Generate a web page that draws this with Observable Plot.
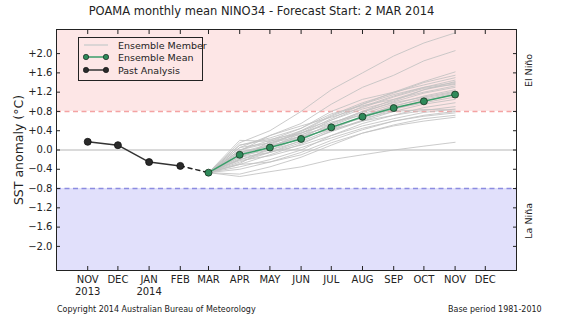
<!DOCTYPE html>
<html>
<head>
<meta charset="utf-8">
<script src="https://cdn.jsdelivr.net/npm/d3@7"></script>
<script src="https://cdn.jsdelivr.net/npm/@observablehq/plot@0.6"></script>
<style>
  html, body { margin: 0; padding: 0; background: #fff; }
  #wrap { position: relative; width: 561px; height: 321px; font-family: "DejaVu Sans", sans-serif; color: #222; overflow: hidden; }
  #wrap svg { position: absolute; left: 0; top: 0; }
  .title { position: absolute; left: 0; width: 523px; top: 4px; text-align: center; font-size: 11.5px; white-space: nowrap; }
  .foot { position: absolute; top: 305px; font-size: 8px; white-space: nowrap; }
  .legend { position: absolute; left: 78px; top: 37px; width: 125px; height: 44px; border: 1px solid #222; box-sizing: border-box; }
  .legend .row { position: absolute; left: 0; height: 12px; display: flex; align-items: center; font-size: 9.5px; white-space: nowrap; }
  .legend svg { position: static !important; margin-left: 4px; margin-right: 9px; }
</style>
</head>
<body>
<div id="wrap"></div>
<script>
// ---------- data ----------
const tickMonths = ["2013-11","2013-12","2014-01","2014-02","2014-03","2014-04","2014-05","2014-06","2014-07","2014-08","2014-09","2014-10","2014-11","2014-12"];
const tickLabels = ["NOV\n2013","DEC","JAN\n2014","FEB","MAR","APR","MAY","JUN","JUL","AUG","SEP","OCT","NOV","DEC"];
const yTicks = [-2.0,-1.6,-1.2,-0.8,-0.4,0,0.4,0.8,1.2,1.6,2.0];

const pastMonths = ["2013-11","2013-12","2014-01","2014-02"];
const pastValues = [0.17, 0.10, -0.25, -0.33];

const forecastMonths = ["2014-03","2014-04","2014-05","2014-06","2014-07","2014-08","2014-09","2014-10","2014-11"];
const meanValues = [-0.47, -0.10, 0.05, 0.23, 0.47, 0.69, 0.87, 1.01, 1.15];

const members = [
  [-0.47, 0.15, 0.40, 0.80, 1.25, 1.60, 1.95, 2.22, 2.43],
  [-0.47, 0.05, 0.30, 0.55, 0.95, 1.30, 1.55, 1.85, 2.06],
  [-0.47, 0.10, 0.25, 0.45, 0.80, 1.05, 1.20, 1.42, 1.62],
  [-0.47,-0.05, 0.12, 0.40, 0.72, 0.98, 1.18, 1.40, 1.55],
  [-0.47, 0.05, 0.15, 0.35, 0.65, 0.95, 1.20, 1.35, 1.50],
  [-0.47,-0.15, 0.05, 0.30, 0.62, 0.90, 1.12, 1.30, 1.45],
  [-0.47,-0.10, 0.10, 0.38, 0.70, 0.95, 1.15, 1.30, 1.40],
  [-0.47, 0.00, 0.20, 0.45, 0.75, 0.92, 1.05, 1.25, 1.38],
  [-0.47,-0.20, 0.00, 0.25, 0.55, 0.80, 1.05, 1.20, 1.33],
  [-0.47,-0.05, 0.08, 0.28, 0.52, 0.78, 1.00, 1.18, 1.30],
  [-0.47,-0.25,-0.05, 0.20, 0.50, 0.75, 0.95, 1.12, 1.25],
  [-0.47, 0.10, 0.22, 0.35, 0.55, 0.80, 0.98, 1.10, 1.22],
  [-0.47,-0.12, 0.00, 0.18, 0.42, 0.70, 0.92, 1.05, 1.18],
  [-0.47,-0.30,-0.10, 0.12, 0.40, 0.62, 0.85, 1.02, 1.15],
  [-0.47,-0.08, 0.10, 0.25, 0.45, 0.68, 0.85, 0.98, 1.10],
  [-0.47,-0.20,-0.05, 0.15, 0.38, 0.60, 0.80, 0.95, 1.05],
  [-0.47,-0.35,-0.20, 0.00, 0.30, 0.55, 0.72, 0.88, 0.98],
  [-0.47, 0.00, 0.15, 0.28, 0.42, 0.60, 0.72, 0.82, 0.90],
  [-0.47,-0.15,-0.05, 0.10, 0.30, 0.50, 0.65, 0.78, 0.85],
  [-0.47,-0.40,-0.25,-0.05, 0.20, 0.42, 0.60, 0.72, 0.80],
  [-0.47,-0.22,-0.12, 0.05, 0.25, 0.45, 0.60, 0.70, 0.77],
  [-0.47,-0.50,-0.35,-0.15, 0.10, 0.35, 0.52, 0.65, 0.72],
  [-0.47,-0.30,-0.25,-0.10, 0.15, 0.35, 0.50, 0.60, 0.68],
  [-0.47,-0.55,-0.45,-0.35,-0.20,-0.10, 0.00, 0.08, 0.16],
  [-0.47, 0.20, 0.18, 0.40, 0.62, 0.85, 1.02, 1.25, 1.42],
  [-0.47,-0.02, 0.30, 0.50, 0.68, 0.88, 1.10, 1.28, 1.36],
  [-0.47,-0.28, 0.05, 0.35, 0.58, 0.72, 0.90, 1.08, 1.20],
  [-0.47,-0.18, 0.18, 0.32, 0.48, 0.66, 0.80, 0.84, 0.83]
];

const xDomain = ["2013-10-01", "2015-01-01"];
const yDomain = [-2.5, 2.5];
const elNinoThreshold = 0.8;
const laNinaThreshold = -0.8;
const regionLabels = [{label: "El Niño", y: 1.65}, {label: "La Niña", y: -1.47}];

// ---------- build tables ----------
const toDate = s => new Date(s.length === 7 ? s + "-01" : s);
const tickDates = tickMonths.map(toDate);
const labelByTime = new Map(tickDates.map((d, i) => [+d, tickLabels[i]]));
const past = pastMonths.map((m, i) => ({date: toDate(m), value: pastValues[i]}));
const mean = forecastMonths.map((m, i) => ({date: toDate(m), value: meanValues[i]}));
const memberRows = members.flatMap((vals, k) => vals.map((v, i) => ({member: k, date: toDate(forecastMonths[i]), value: v})));
const link = [past[past.length - 1], mean[0]];

const yFmt = d => Math.abs(d) < 1e-9 ? "0.0" : (d > 0 ? "+" : "\u2212") + Math.abs(d).toFixed(1);

const chart = Plot.plot({
  width: 561,
  height: 321,
  marginLeft: 56,
  marginRight: 45,
  marginTop: 29,
  marginBottom: 51,
  style: {fontFamily: "DejaVu Sans, sans-serif", fontSize: "10px", color: "#222", background: "transparent"},
  x: {type: "utc", domain: xDomain.map(toDate)},
  y: {domain: yDomain},
  marks: [
    Plot.rect([{y1: elNinoThreshold, y2: yDomain[1]}], {y1: "y1", y2: "y2", fill: "#fde6e6"}),
    Plot.rect([{y1: yDomain[0], y2: laNinaThreshold}], {y1: "y1", y2: "y2", fill: "#e1e0fb"}),
    Plot.ruleY([0], {stroke: "#b5b5b5", strokeWidth: 1}),
    Plot.ruleY([elNinoThreshold], {stroke: "#f4a3a3", strokeWidth: 1.5, strokeDasharray: "5,3.5"}),
    Plot.ruleY([laNinaThreshold], {stroke: "#8c8ce0", strokeWidth: 1.5, strokeDasharray: "5,3.5"}),
    Plot.line(memberRows, {x: "date", y: "value", z: "member", stroke: "#c2c2c2", strokeWidth: 1, strokeOpacity: 0.85}),
    Plot.line(link, {x: "date", y: "value", stroke: "#222", strokeWidth: 1.5, strokeDasharray: "4,4"}),
    Plot.line(past, {x: "date", y: "value", stroke: "#333", strokeWidth: 1.5}),
    Plot.dot(past, {x: "date", y: "value", r: 3.5, fill: "#2a2a2a", stroke: "#111", strokeWidth: 0.8}),
    Plot.line(mean, {x: "date", y: "value", stroke: "#3a9e6a", strokeWidth: 1.5}),
    Plot.dot(mean, {x: "date", y: "value", r: 3.5, fill: "#2f8a5a", stroke: "#16331f", strokeWidth: 0.8}),
    Plot.axisX({ticks: tickDates, tickFormat: d => labelByTime.get(+d), tickSize: -4, tickPadding: 8, fontSize: 10, lineHeight: 1.2, label: null, stroke: "#222"}),
    Plot.axisX({anchor: "top", ticks: tickDates, tickFormat: () => "", tickSize: -4, label: null, stroke: "#222"}),
    Plot.axisY({ticks: yTicks, tickFormat: yFmt, tickSize: -4, tickPadding: 8, fontSize: 10, label: null, stroke: "#222"}),
    Plot.axisY({anchor: "right", ticks: yTicks, tickFormat: () => "", tickSize: -4, label: null, stroke: "#222"}),
    Plot.text(["SST anomaly (\u00b0C)"], {frameAnchor: "left", textAnchor: "middle", dx: -38, rotate: -90, fontSize: 12.5, fill: "#222"}),
    Plot.text(regionLabels, {frameAnchor: "right", textAnchor: "middle", y: "y", text: "label", dx: 12, rotate: -90, fontSize: 9.5, fill: "#222"}),
    Plot.frame({stroke: "#222", strokeWidth: 1})
  ]
});

const wrap = document.getElementById("wrap");
wrap.appendChild(chart);

const title = document.createElement("div");
title.className = "title";
title.textContent = "POAMA monthly mean NINO34 - Forecast Start: 2 MAR 2014";
wrap.appendChild(title);

const f1 = document.createElement("div");
f1.className = "foot"; f1.style.left = "57px";
f1.textContent = "Copyright 2014 Australian Bureau of Meteorology";
wrap.appendChild(f1);
const f2 = document.createElement("div");
f2.className = "foot"; f2.style.left = "448px";
f2.textContent = "Base period 1981-2010";
wrap.appendChild(f2);

// legend
const legendItems = [
  {label: "Ensemble Member", stroke: "#cfcfcf", dot: null, top: 1},
  {label: "Ensemble Mean", stroke: "#3a9e6a", dot: "#2f8a5a", top: 13},
  {label: "Past Analysis", stroke: "#333", dot: "#2a2a2a", top: 26}
];
const legend = document.createElement("div");
legend.className = "legend";
for (const it of legendItems) {
  const row = document.createElement("div");
  row.className = "row";
  row.style.top = it.top + "px";
  const ns = "http://www.w3.org/2000/svg";
  const s = document.createElementNS(ns, "svg");
  s.setAttribute("width", 26); s.setAttribute("height", 10);
  const ln = document.createElementNS(ns, "line");
  ln.setAttribute("x1", 1); ln.setAttribute("x2", 25); ln.setAttribute("y1", 5); ln.setAttribute("y2", 5);
  ln.setAttribute("stroke", it.stroke); ln.setAttribute("stroke-width", 1.5);
  s.appendChild(ln);
  if (it.dot) for (const cx of [3, 23]) {
    const c = document.createElementNS(ns, "circle");
    c.setAttribute("cx", cx); c.setAttribute("cy", 5); c.setAttribute("r", 2.7);
    c.setAttribute("fill", it.dot); c.setAttribute("stroke", "#111"); c.setAttribute("stroke-width", 0.6);
    s.appendChild(c);
  }
  row.appendChild(s);
  const t = document.createElement("span");
  t.textContent = it.label;
  row.appendChild(t);
  legend.appendChild(row);
}
wrap.appendChild(legend);
</script>
</body>
</html>
